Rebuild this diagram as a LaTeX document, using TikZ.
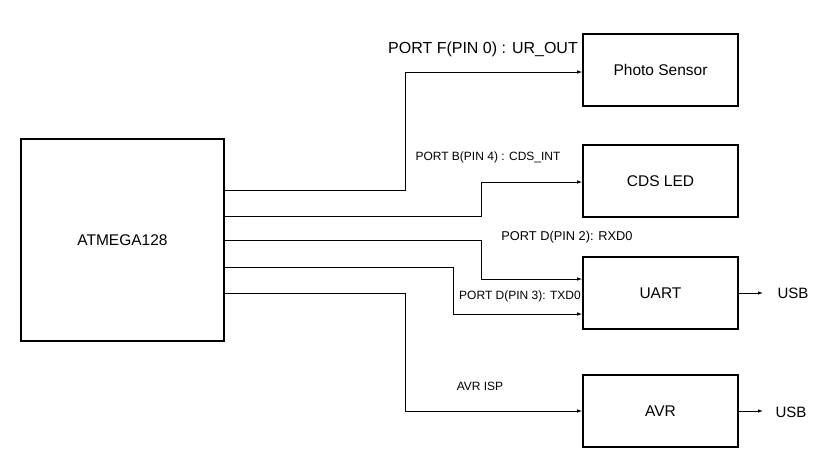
\documentclass[tikz,border=0pt]{standalone}
\usepackage{fontspec}
\setmainfont{Liberation Sans}
\usetikzlibrary{arrows.meta}
\begin{document}
\begin{tikzpicture}[x=1pt,y=-1pt,
  blk/.style={draw,line width=1.6pt,minimum width=155pt,minimum height=72pt,inner sep=0pt,font=\fontsize{15.5}{18}\selectfont},
  big/.style={font=\fontsize{15}{18}\selectfont,inner sep=0pt},
  small/.style={font=\fontsize{12}{14}\selectfont,inner sep=0pt},
  wire/.style={line width=0.8pt,-{Latex[length=5pt,width=3.5pt]}}]
\useasboundingbox (0,0) rectangle (833,467);
\node[blk,minimum width=203pt,minimum height=202pt] (mcu) at (122.5,240) {ATMEGA128};
\node[blk] (ps) at (660.5,70) {Photo Sensor};
\node[blk] (cds) at (660.5,181) {CDS LED};
\node[blk] (uart) at (660.5,293) {UART};
\node[blk] (avr) at (660.5,411) {AVR};
\coordinate (m1) at (224,190);
\coordinate (m2) at (224,216);
\coordinate (m3) at (224,240);
\coordinate (m4) at (224,267);
\coordinate (m5) at (224,293);
\draw[wire] (m1) -| (405,72) -- (ps.west |- 0,72);
\draw[wire] (m2) -| (481,182) -- (cds.west |- 0,182);
\draw[wire] (m3) -| (481,279) -- (uart.west |- 0,279);
\draw[wire] (m4) -| (453,314) -- (uart.west |- 0,314);
\draw[wire] (m5) -| (405,411) -- (avr.west);
\node[big] (usb1) at (793,293) {USB};
\node[big] (usb2) at (791,412) {USB};
\draw[wire] (uart.east) -- (usb1.west -| 763,0);
\draw[wire] (avr.east) -- (763,411);
\node[big,font=\fontsize{16}{19}\selectfont] (l1) at (483,49) {PORT F(PIN 0) : UR\_OUT};
\node[small] (l2) at (488,157) {PORT B(PIN 4) : CDS\_INT};
\node[small,font=\fontsize{12.8}{15}\selectfont] (l3) at (567,237) {PORT D(PIN 2): RXD0};
\node[small] (l4) at (520,296) {PORT D(PIN 3): TXD0};
\node[small] (l5) at (480,386) {AVR ISP};
\end{tikzpicture}
\end{document}
